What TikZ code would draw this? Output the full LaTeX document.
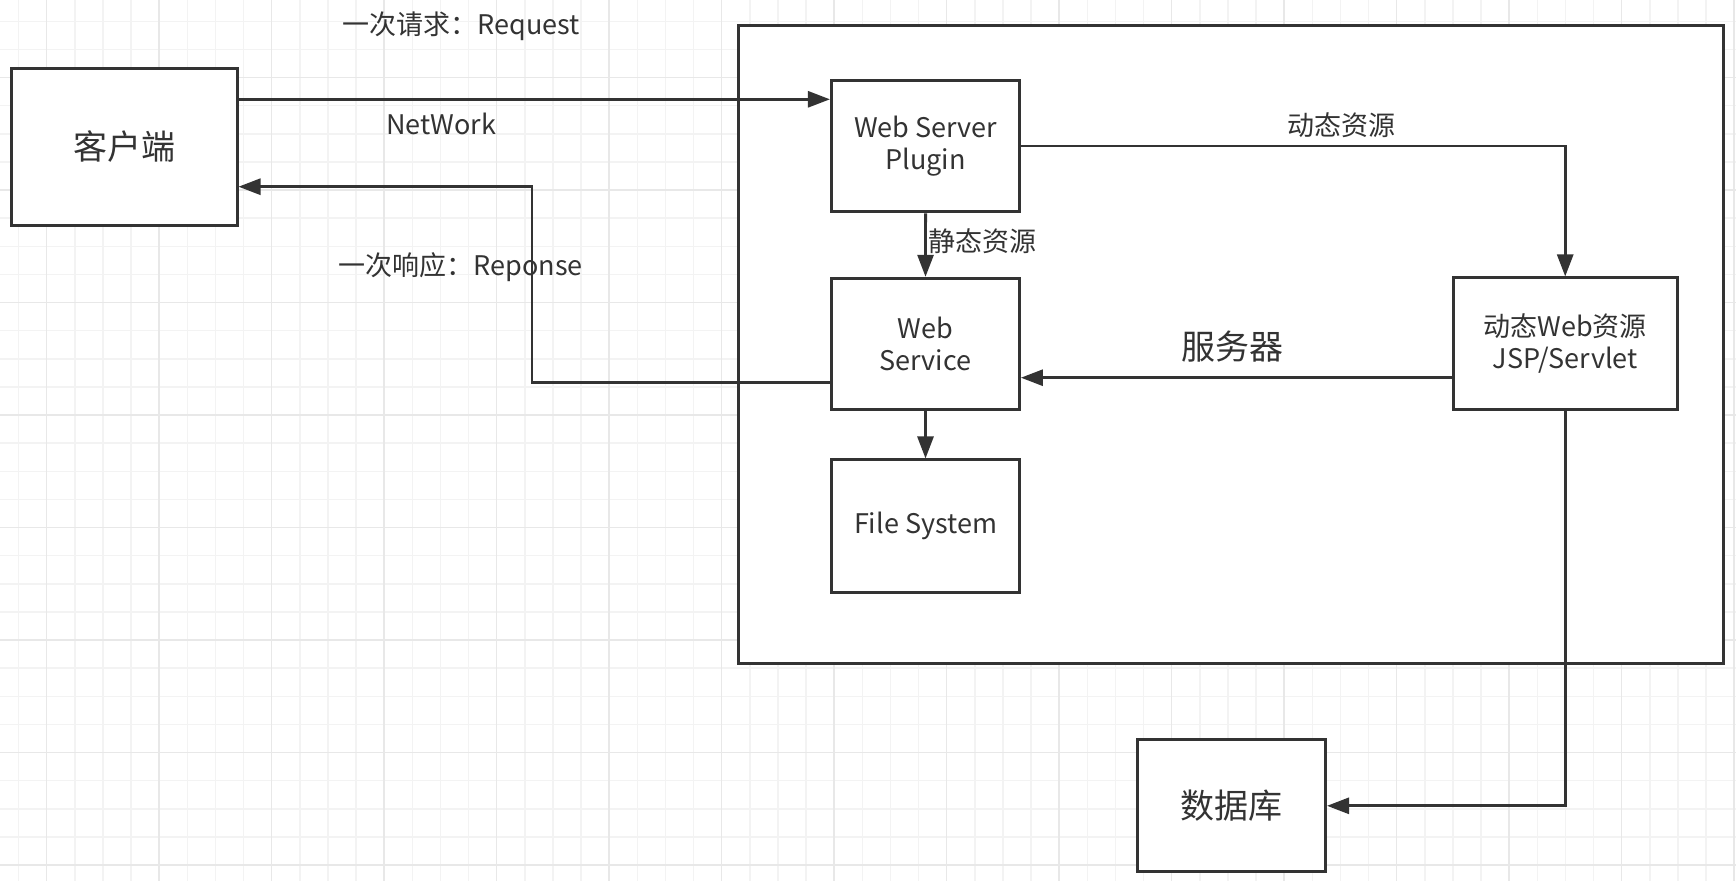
\documentclass[tikz,border=0pt]{standalone}
\usepackage{fontspec}
\setmainfont{Noto Sans CJK SC}
\usetikzlibrary{arrows.meta}
\definecolor{ink}{HTML}{333333}
\definecolor{gridminor}{HTML}{F3F3F3}
\definecolor{gridmajor}{HTML}{E8E8E8}
\begin{document}
\begin{tikzpicture}[x=1pt,y=-1pt,
  box/.style={draw=ink, line width=3pt, fill=white, inner sep=0pt, align=center, text=ink,
              font=\fontsize{27}{32}\selectfont},
  bigbox/.style={box, font=\fontsize{34}{40}\selectfont},
  conn/.style={draw=ink, line width=2.8pt, -{Triangle[length=22pt,width=16pt]}},
  lbl/.style={text=ink, inner sep=0pt, font=\fontsize{27}{32}\selectfont},
  biglbl/.style={lbl, font=\fontsize{34}{40}\selectfont},
]
\useasboundingbox (0,0) rectangle (1736,881);
\fill[white] (0,0) rectangle (1736,881);
% grid
\foreach \i in {0,...,61} { \draw[gridminor, line width=1.5pt] ({18.6+28.125*\i},0) -- ({18.6+28.125*\i},881); }
\foreach \i in {0,...,30} { \draw[gridminor, line width=1.5pt] (0,{21.25+28.125*\i}) -- (1736,{21.25+28.125*\i}); }
\foreach \i in {0,...,15} { \draw[gridmajor, line width=1.5pt] ({46.7+112.5*\i},0) -- ({46.7+112.5*\i},881); }
\foreach \i in {0,...,7} { \draw[gridmajor, line width=1.5pt] (0,{77.5+112.5*\i}) -- (1736,{77.5+112.5*\i}); }

% server frame
\node[box, minimum width=984.5pt, minimum height=638pt] (server) at (1230.75,344) {};

% nodes
\node[bigbox, minimum width=225.5pt, minimum height=157pt] (client) at (124.25,146.5) {客户端};
\node[box, minimum width=188.3pt, minimum height=131.7pt] (plugin) at (925.6,145.9) {Web Server\\Plugin};
\node[box, minimum width=187.8pt, minimum height=131pt] (ws) at (925.5,343.8) {Web\\Service};
\node[box, minimum width=187.8pt, minimum height=132.7pt] (fs) at (925.5,526.3) {File System};
\node[box, minimum width=223.6pt, minimum height=131.3pt] (dyn) at (1565.2,343.6) {动态Web资源\\JSP/Servlet};
\node[bigbox, minimum width=188pt, minimum height=131.7pt] (db) at (1231.5,805.8) {数据库};

% helper coordinates
\coordinate (reqy) at (0,99.3);
\coordinate (dyny) at (0,377.7);
\coordinate (rspbot) at (532,382.7);
\coordinate (rsptop) at (532,186.7);

% connectors
\draw[conn] (client.east |- reqy) -- (plugin.west |- reqy);
\draw[conn] (plugin.east) -| (dyn.north);
\draw[conn] (plugin.south) -- (ws.north);
\draw[conn] (ws.south) -- (fs.north);
\draw[conn] (dyn.west |- dyny) -- (ws.east |- dyny);
\draw[conn] (ws.west |- rspbot) -- (rspbot) -- (rsptop) -- (client.east |- rsptop);
\draw[conn] (dyn.south) |- (db.east);

% labels
\node[lbl, anchor=west] (lreq) at (342.5,26) {一次请求：Request};
\node[lbl] (lnet) at (441,124) {NetWork};
\node[lbl, anchor=west] (lrsp) at (338.7,267) {一次响应：Reponse};
\node[lbl] (ldyn) at (1341.4,125) {动态资源};
\node[lbl, anchor=west] (lsta) at (928,241.7) {静态资源};
\node[biglbl] (lsrv) at (1232,346.7) {服务器};
\end{tikzpicture}
\end{document}
